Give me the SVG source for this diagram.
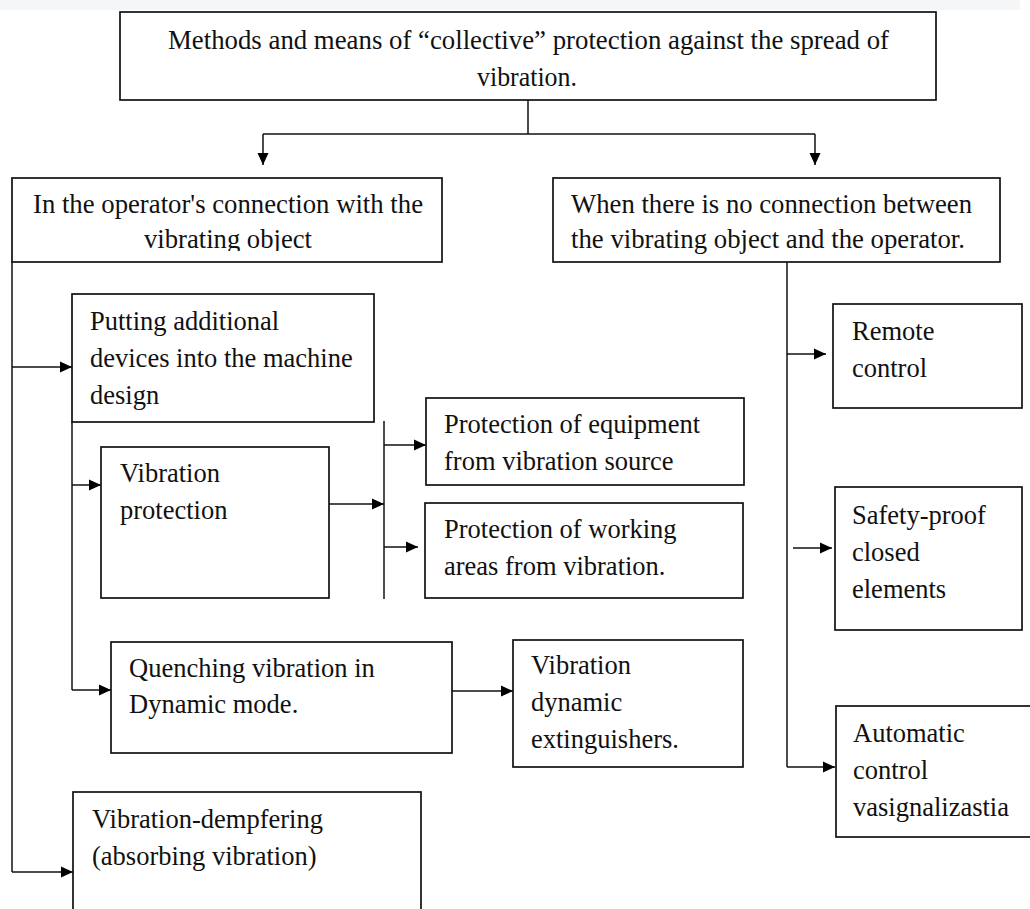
<svg xmlns="http://www.w3.org/2000/svg" width="1030" height="909" viewBox="0 0 1030 909">
<defs>
<marker id="ah" markerUnits="userSpaceOnUse" markerWidth="12" markerHeight="12" viewBox="0 0 12 12" refX="12" refY="6" orient="auto"><path d="M0,0.5 L12,6 L0,11.5 Z" fill="#000"/></marker>
<clipPath id="clipL"><rect x="12" y="178" width="430" height="73"/></clipPath>
</defs>
<style>
.box{fill:#fff;stroke:#111;stroke-width:1.7}
.ln{fill:none;stroke:#111;stroke-width:1.5}
.ar{fill:none;stroke:#111;stroke-width:1.5;marker-end:url(#ah)}
text{font-family:"Liberation Serif","Times New Roman",serif;font-size:26.5px;fill:#111}
</style>
<rect x="0" y="0" width="1020" height="10" fill="#f5f6f8"/>
<g id="connectors">
<path class="ln" d="M528,100 V134 M263,134 H815"/>
<path class="ar" d="M263,134 V165"/>
<path class="ar" d="M815,134 V165"/>
<path class="ln" d="M12,262 V872"/>
<path class="ar" d="M12,367 H72"/>
<path class="ar" d="M12,872 H73"/>
<path class="ln" d="M72,422 V690"/>
<path class="ar" d="M72,485 H101"/>
<path class="ar" d="M72,690 H111"/>
<path class="ar" d="M329,504 H384"/>
<path class="ln" d="M384,421 V599"/>
<path class="ar" d="M384,445 H426"/>
<path class="ar" d="M384,547 H418"/>
<path class="ar" d="M452,691 H513"/>
<path class="ln" d="M787,262 V767"/>
<path class="ar" d="M787,767 H835"/>
<path class="ar" d="M787,354 H826"/>
<path class="ar" d="M793,548 H832"/>
</g>
<g id="n-top">
<rect class="box" x="120" y="12" width="816" height="88"/>
<text x="528.5" y="49" text-anchor="middle" textLength="721" lengthAdjust="spacingAndGlyphs">Methods and means of “collective” protection against the spread of</text>
<text x="527" y="86" text-anchor="middle" textLength="100" lengthAdjust="spacingAndGlyphs">vibration.</text>
</g>
<g id="n-left">
<rect class="box" x="12" y="178" width="430" height="84"/>
<text x="33" y="213" textLength="390" lengthAdjust="spacingAndGlyphs">In the operator's connection with the</text>
<text x="144" y="248" textLength="168" lengthAdjust="spacingAndGlyphs" clip-path="url(#clipL)">vibrating object</text>
</g>
<g id="n-right">
<rect class="box" x="553" y="178" width="447" height="84"/>
<text x="571" y="213" textLength="401" lengthAdjust="spacingAndGlyphs">When there is no connection between</text>
<text x="571" y="248" textLength="394" lengthAdjust="spacingAndGlyphs">the vibrating object and the operator.</text>
</g>
<g id="n-putting">
<rect class="box" x="72" y="294" width="302" height="128"/>
<text x="90" y="330">Putting additional</text>
<text x="90" y="367">devices into the machine</text>
<text x="90" y="404">design</text>
</g>
<g id="n-vibprot">
<rect class="box" x="101" y="447" width="228" height="151"/>
<text x="120" y="482">Vibration</text>
<text x="120" y="519">protection</text>
</g>
<g id="n-equip">
<rect class="box" x="426" y="398" width="318" height="87"/>
<text x="444" y="433">Protection of equipment</text>
<text x="444" y="470">from vibration source</text>
</g>
<g id="n-areas">
<rect class="box" x="425" y="503" width="318" height="95"/>
<text x="444" y="538">Protection of working</text>
<text x="444" y="575">areas from vibration.</text>
</g>
<g id="n-quench">
<rect class="box" x="111" y="642" width="341" height="111"/>
<text x="129" y="677">Quenching vibration in</text>
<text x="129" y="713">Dynamic mode.</text>
</g>
<g id="n-ext">
<rect class="box" x="513" y="640" width="230" height="127"/>
<text x="531" y="674">Vibration</text>
<text x="531" y="711">dynamic</text>
<text x="531" y="748">extinguishers.</text>
</g>
<g id="n-damp">
<rect class="box" x="73" y="792" width="348" height="130"/>
<text x="92" y="828">Vibration-dempfering</text>
<text x="92" y="865">(absorbing vibration)</text>
</g>
<g id="n-remote">
<rect class="box" x="833" y="304" width="189" height="104"/>
<text x="852" y="340">Remote</text>
<text x="852" y="377">control</text>
</g>
<g id="n-safety">
<rect class="box" x="835" y="487" width="187" height="143"/>
<text x="852" y="524">Safety-proof</text>
<text x="852" y="561">closed</text>
<text x="852" y="598">elements</text>
</g>
<g id="n-auto">
<rect class="box" x="836" y="706" width="200" height="131"/>
<text x="853" y="742">Automatic</text>
<text x="853" y="779">control</text>
<text x="853" y="816">vasignalizastia</text>
</g>
</svg>
